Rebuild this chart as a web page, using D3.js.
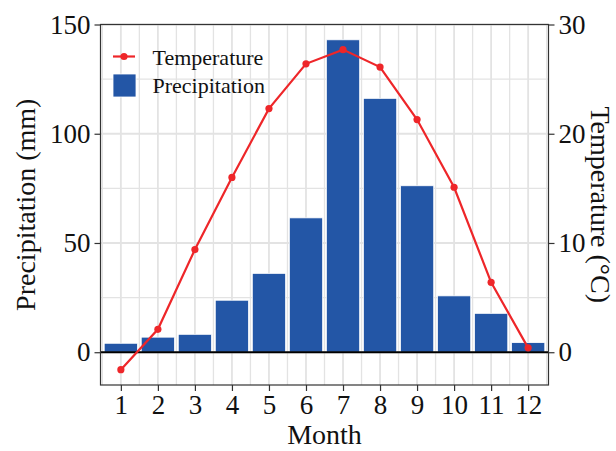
<!DOCTYPE html>
<html><head><meta charset="utf-8">
<script src="https://cdn.jsdelivr.net/npm/d3@7"></script>
<style>body{margin:0;background:#fff}svg{display:block}text{font-family:"Liberation Serif","Times New Roman",serif;fill:#111}</style>
</head><body>
<script>
const months = [1,2,3,4,5,6,7,8,9,10,11,12];
const precipitation = [4.1, 6.9, 8.2, 23.8, 36.1, 61.5, 143, 116.2, 76.2, 25.8, 17.8, 4.4];
const temperature = [-1.6, 2.1, 9.4, 16.0, 22.3, 26.4, 27.7, 26.1, 21.3, 15.1, 6.4, 0.4];
const precipTicks = [0, 50, 100, 150];
const tempTicks = [0, 10, 20, 30];
const legendLabels = ["Temperature", "Precipitation"];

const W = 616, H = 451;
const L = 100.5, R = 548.5, T = 24.5, B = 385;
const svg = d3.select("body").append("svg").attr("width", W).attr("height", H);

const x = d3.scaleLinear().domain([0.45, 12.55]).range([L, R]);
const yP = d3.scaleLinear().domain([-15, 150]).range([B, T]);
const yT = d3.scaleLinear().domain([-3, 30]).range([B, T]);

const blue = "#2356a6", red = "#ee2629", grid = "#e3e3e3";

// gridlines
const g = svg.append("g");
const minorX = d3.range(0.5, 13, 1);
g.selectAll("line.mx").data(minorX).join("line")
  .attr("x1", d => x(d)).attr("x2", d => x(d)).attr("y1", T).attr("y2", B)
  .attr("stroke", grid).attr("stroke-width", 1.3);
g.selectAll("line.Mx").data(months).join("line")
  .attr("x1", d => x(d)).attr("x2", d => x(d)).attr("y1", T).attr("y2", B)
  .attr("stroke", grid).attr("stroke-width", 1.8);
g.selectAll("line.my").data([25, 75, 125]).join("line")
  .attr("x1", L).attr("x2", R).attr("y1", d => yP(d)).attr("y2", d => yP(d))
  .attr("stroke", grid).attr("stroke-width", 1.3);
g.selectAll("line.My").data(precipTicks).join("line")
  .attr("x1", L).attr("x2", R).attr("y1", d => yP(d)).attr("y2", d => yP(d))
  .attr("stroke", grid).attr("stroke-width", 1.8);

// bars
const bw = 0.9;
svg.append("g").selectAll("rect").data(months).join("rect")
  .attr("x", (d) => x(d - bw/2)).attr("width", x(bw) - x(0))
  .attr("y", (d, i) => yP(precipitation[i])).attr("height", (d, i) => yP(0) - yP(precipitation[i]))
  .attr("fill", blue).attr("stroke", "#ffffff").attr("stroke-width", 0.8);

// zero line
svg.append("line").attr("x1", L).attr("x2", R).attr("y1", yP(0)).attr("y2", yP(0))
  .attr("stroke", "#000").attr("stroke-width", 2);

// temperature line
const line = d3.line().x((d, i) => x(months[i])).y(d => yT(d));
svg.append("path").datum(temperature).attr("d", line)
  .attr("fill", "none").attr("stroke", red).attr("stroke-width", 2.2);
svg.append("g").selectAll("circle").data(temperature).join("circle")
  .attr("cx", (d, i) => x(months[i])).attr("cy", d => yT(d)).attr("r", 3.6).attr("fill", red);

// panel border
svg.append("rect").attr("x", L).attr("y", T).attr("width", R - L).attr("height", B - T)
  .attr("fill", "none").attr("stroke", "#333").attr("stroke-width", 1.2);

// axes
const fs = 27;
const axL = svg.append("g").attr("transform", `translate(${L},0)`)
  .call(d3.axisLeft(yP).tickValues(precipTicks).tickSize(6).tickPadding(4));
const axR = svg.append("g").attr("transform", `translate(${R},0)`)
  .call(d3.axisRight(yT).tickValues(tempTicks).tickSize(6).tickPadding(4));
const axB = svg.append("g").attr("transform", `translate(0,${B})`)
  .call(d3.axisBottom(x).tickValues(months).tickSize(6).tickPadding(4).tickFormat(d3.format("d")));
[axL, axR, axB].forEach(a => {
  a.select(".domain").remove();
  a.selectAll(".tick line").attr("stroke", "#333").attr("stroke-width", 1.2);
  a.selectAll(".tick text").style("font-family", '"Liberation Serif",serif').style("font-size", fs + "px").attr("fill", "#111");
});

// titles
svg.append("text").attr("x", (L + R) / 2).attr("y", 444).attr("text-anchor", "middle")
  .style("font-size", "28px").text("Month");
svg.append("text").attr("transform", `translate(35,${(T + B) / 2}) rotate(-90)`).attr("text-anchor", "middle")
  .style("font-size", "28px").text("Precipitation (mm)");
svg.append("text").attr("transform", `translate(591,${(T + B) / 2}) rotate(90)`).attr("text-anchor", "middle")
  .style("font-size", "28px").text("Temperature (°C)");

// legend
const lg = svg.append("g");
lg.append("line").attr("x1", 113).attr("x2", 135).attr("y1", 56.5).attr("y2", 56.5)
  .attr("stroke", red).attr("stroke-width", 2.2);
lg.append("circle").attr("cx", 124).attr("cy", 56.5).attr("r", 3.6).attr("fill", red);
lg.append("rect").attr("x", 113).attr("y", 74).attr("width", 23).attr("height", 23)
  .attr("fill", blue).attr("stroke", "#fff").attr("stroke-width", 0.8);
lg.selectAll("text").data(legendLabels).join("text")
  .attr("x", 152.5).attr("y", (d, i) => 64.5 + i * 28.5)
  .style("font-size", "22px").text(d => d);
</script>
</body></html>
